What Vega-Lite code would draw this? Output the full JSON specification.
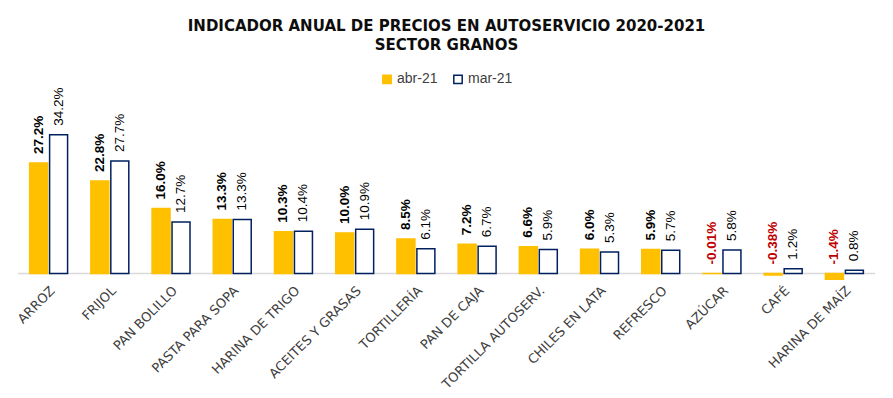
{
 "$schema": "https://vega.github.io/schema/vega-lite/v6.json",
 "width": 857, "height": 177,
 "autosize": {"type": "none"},
 "padding": {"left": 18, "top": 103, "right": 18, "bottom": 118},
 "background": "white",
 "title": {"text": ["INDICADOR ANUAL DE PRECIOS EN AUTOSERVICIO 2020-2021", "SECTOR GRANOS"], "font": "DejaVu Sans", "fontSize": 15, "fontWeight": "bold", "color": "#0d0d0d", "lineHeight": 19, "anchor": "middle", "offset": 19},
 "config": {"view": {"stroke": null}, "legend": {"layout": {"top": {"anchor": "middle"}}}},
 "data": {"values": [
  {"cat": "ARROZ", "series": "abr-21", "v": 27.2, "lbl": "27.2%"},
  {"cat": "ARROZ", "series": "mar-21", "v": 34.2, "lbl": "34.2%"},
  {"cat": "FRIJOL", "series": "abr-21", "v": 22.8, "lbl": "22.8%"},
  {"cat": "FRIJOL", "series": "mar-21", "v": 27.7, "lbl": "27.7%"},
  {"cat": "PAN BOLILLO", "series": "abr-21", "v": 16.0, "lbl": "16.0%"},
  {"cat": "PAN BOLILLO", "series": "mar-21", "v": 12.7, "lbl": "12.7%"},
  {"cat": "PASTA PARA SOPA", "series": "abr-21", "v": 13.3, "lbl": "13.3%"},
  {"cat": "PASTA PARA SOPA", "series": "mar-21", "v": 13.3, "lbl": "13.3%"},
  {"cat": "HARINA DE TRIGO", "series": "abr-21", "v": 10.3, "lbl": "10.3%"},
  {"cat": "HARINA DE TRIGO", "series": "mar-21", "v": 10.4, "lbl": "10.4%"},
  {"cat": "ACEITES Y GRASAS", "series": "abr-21", "v": 10.0, "lbl": "10.0%"},
  {"cat": "ACEITES Y GRASAS", "series": "mar-21", "v": 10.9, "lbl": "10.9%"},
  {"cat": "TORTILLERÍA", "series": "abr-21", "v": 8.5, "lbl": "8.5%"},
  {"cat": "TORTILLERÍA", "series": "mar-21", "v": 6.1, "lbl": "6.1%"},
  {"cat": "PAN DE CAJA", "series": "abr-21", "v": 7.2, "lbl": "7.2%"},
  {"cat": "PAN DE CAJA", "series": "mar-21", "v": 6.7, "lbl": "6.7%"},
  {"cat": "TORTILLA AUTOSERV.", "series": "abr-21", "v": 6.6, "lbl": "6.6%"},
  {"cat": "TORTILLA AUTOSERV.", "series": "mar-21", "v": 5.9, "lbl": "5.9%"},
  {"cat": "CHILES EN LATA", "series": "abr-21", "v": 6.0, "lbl": "6.0%"},
  {"cat": "CHILES EN LATA", "series": "mar-21", "v": 5.3, "lbl": "5.3%"},
  {"cat": "REFRESCO", "series": "abr-21", "v": 5.9, "lbl": "5.9%"},
  {"cat": "REFRESCO", "series": "mar-21", "v": 5.7, "lbl": "5.7%"},
  {"cat": "AZÚCAR", "series": "abr-21", "v": -0.01, "lbl": "-0.01%"},
  {"cat": "AZÚCAR", "series": "mar-21", "v": 5.8, "lbl": "5.8%"},
  {"cat": "CAFÉ", "series": "abr-21", "v": -0.38, "lbl": "-0.38%"},
  {"cat": "CAFÉ", "series": "mar-21", "v": 1.2, "lbl": "1.2%"},
  {"cat": "HARINA DE MAÍZ", "series": "abr-21", "v": -1.4, "lbl": "-1.4%"},
  {"cat": "HARINA DE MAÍZ", "series": "mar-21", "v": 0.8, "lbl": "0.8%"}
 ]},
 "transform": [{"calculate": "max(datum.v, 0)", "as": "ly"}],
 "layer": [
  {
   "mark": {"type": "rule", "color": "#D9D9D9", "strokeWidth": 1.5},
   "data": {"values": [{"z": 0}]},
   "encoding": {"y": {"field": "z", "type": "quantitative", "scale": {"domain": [-1.6, 42], "nice": false, "zero": false}, "axis": null}}
  },
  {
   "mark": {"type": "bar", "strokeWidth": 1.5},
   "encoding": {
    "x": {"field": "cat", "type": "nominal", "sort": null, "scale": {"paddingInner": 0.38, "paddingOuter": 0.19},
      "axis": {"title": null, "domain": false, "ticks": false, "labelAngle": -45, "labelFont": "DejaVu Sans", "labelFontSize": 13, "labelColor": "#404040", "labelPadding": 4}},
    "xOffset": {"field": "series", "type": "nominal", "scale": {"domain": ["abr-21", "mar-21"], "paddingInner": 0.1}},
    "y": {"field": "v", "type": "quantitative", "scale": {"domain": [-1.6, 42], "nice": false, "zero": false}, "axis": null},
    "fill": {"field": "series", "type": "nominal", "scale": {"domain": ["abr-21", "mar-21"], "range": ["#FFC000", "#FFFFFF"]},
      "legend": {"title": null, "orient": "top", "direction": "horizontal", "labelFont": "Liberation Sans", "labelFontSize": 14, "labelColor": "#404040", "symbolType": "square", "symbolSize": 70, "symbolStrokeWidth": 1.5, "columnPadding": 12, "labelOffset": 3, "offset": 16}},
    "stroke": {"field": "series", "type": "nominal", "scale": {"domain": ["abr-21", "mar-21"], "range": ["#FFC000", "#002060"]}}
   }
  },
  {
   "transform": [{"filter": "datum.series == 'abr-21'"}],
   "mark": {"type": "text", "angle": 270, "align": "left", "baseline": "middle", "dx": 9, "font": "Liberation Sans", "fontSize": 13.5, "fontWeight": "bold"},
   "encoding": {
    "x": {"field": "cat", "type": "nominal", "sort": null},
    "xOffset": {"field": "series", "type": "nominal"},
    "y": {"field": "ly", "type": "quantitative"},
    "text": {"field": "lbl"},
    "color": {"condition": {"test": "datum.v < 0", "value": "#C00000"}, "value": "#000000"}
   }
  },
  {
   "transform": [{"filter": "datum.series == 'mar-21'"}],
   "mark": {"type": "text", "angle": 270, "align": "left", "baseline": "middle", "dx": 9, "font": "Liberation Sans", "fontSize": 13.5, "color": "#000000"},
   "encoding": {
    "x": {"field": "cat", "type": "nominal", "sort": null},
    "xOffset": {"field": "series", "type": "nominal"},
    "y": {"field": "ly", "type": "quantitative"},
    "text": {"field": "lbl"}
   }
  }
 ]
}
